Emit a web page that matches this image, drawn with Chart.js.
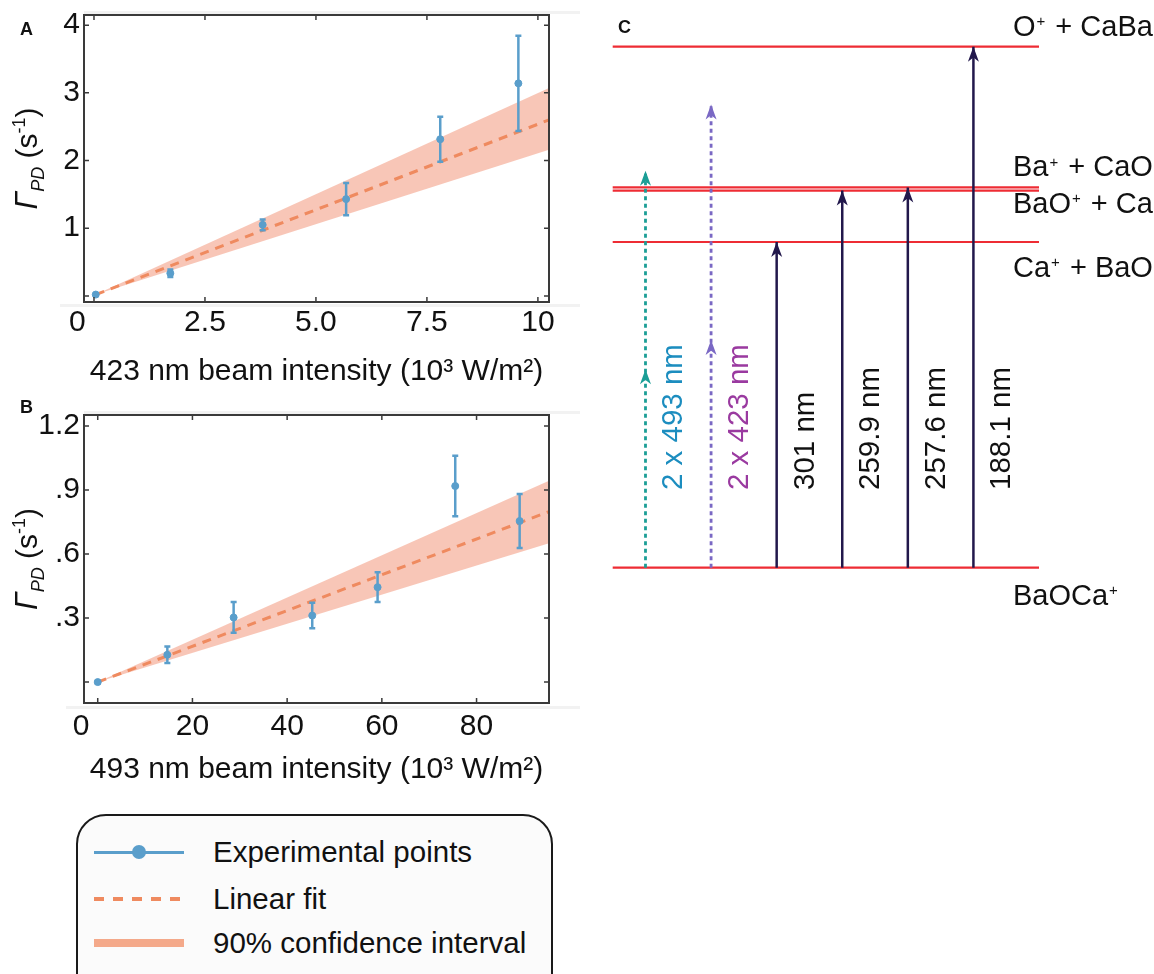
<!DOCTYPE html>
<html lang="en">
<head>
<meta charset="utf-8">
<title>BaOCa+ photodissociation</title>
<script src="https://cdn.jsdelivr.net/npm/chart.js@4.4.1/dist/chart.umd.min.js"></script>
<style>
  html, body { margin: 0; padding: 0; background: #fff; }
  #page { position: relative; width: 1154px; height: 974px; overflow: hidden;
          font-family: "Liberation Sans", Arial, sans-serif; color: #111; }
  #page canvas { position: absolute; }
  .tag { position: absolute; font-weight: bold; font-size: 18px; line-height: 18px; }
  .rule { position: absolute; height: 3px; background: #f2f2f2; }
  #legend { position: absolute; left: 76px; top: 814px; width: 473px; height: 190px;
            border: 2px solid #1a1a1a; border-radius: 30px; background: #fbfbfb; }
  #legend .row { position: absolute; left: 0; height: 34px; line-height: 34px; font-size: 29.5px; }
  #legend .sym { position: absolute; left: 16px; top: 0; width: 90px; height: 34px; }
  #legend .txt { position: absolute; left: 135px; white-space: nowrap; }
  .sym-pts::before { content: ''; position: absolute; left: 0; right: 0; top: 15.5px; height: 3px; background: #5a9ecb; }
  .sym-pts::after { content: ''; position: absolute; left: 38px; top: 10px; width: 14px; height: 14px;
                    border-radius: 50%; background: #5a9ecb; }
  .sym-fit::before { content: ''; position: absolute; left: 0; right: 0; top: 15px; height: 4px;
                     background: repeating-linear-gradient(to right, #ef8a5f 0 10px, transparent 10px 19px); }
  .sym-ci::before { content: ''; position: absolute; left: 0; right: 0; top: 13px; height: 8px; background: #f4a98a; }
</style>
</head>
<body>
<div id="page">
  <div class="rule" style="left:84px; top:11px; width:496px;"></div>
  <div class="rule" style="left:60px; top:304px; width:520px;"></div>
  <div class="rule" style="left:84px; top:411px; width:496px;"></div>
  <div class="rule" style="left:66px; top:706px; width:514px;"></div>

  <canvas id="chartA" width="600" height="390" style="left:0; top:0;"></canvas>
  <canvas id="chartB" width="600" height="400" style="left:0; top:390px;"></canvas>
  <canvas id="chartC" width="554" height="620" style="left:600px; top:0;"></canvas>

  <div class="tag" style="left:20px; top:20px;">A</div>
  <div class="tag" style="left:20px; top:398px;">B</div>
  <div class="tag" style="left:618px; top:18px;">C</div>

  <div id="legend">
    <div class="row" style="top:19px;"><span class="sym sym-pts"></span><span class="txt">Experimental points</span></div>
    <div class="row" style="top:66px;"><span class="sym sym-fit"></span><span class="txt">Linear fit</span></div>
    <div class="row" style="top:110px;"><span class="sym sym-ci"></span><span class="txt">90% confidence interval</span></div>
  </div>
</div>

<script>
// ---- panel A: 423 nm ----
const xA = [0.04, 1.72, 3.80, 5.68, 7.80, 9.56];
const yA = [0.02, 0.335, 1.05, 1.43, 2.315, 3.14];
const errA = [0.01, 0.054, 0.079, 0.239, 0.333, 0.704];
const fitXA = [0.04, 10.25];
const fitA = [0.02, 2.60];
const bandHiA = [0.02, 3.07];
const bandLoA = [0.02, 2.16];
const xTicksA = [0, 2.5, 5, 7.5, 10];
const xLabelsA = ['0', '2.5', '5.0', '7.5', '10'];
const yTicksA = [0, 1, 2, 3, 4];
const yLabelsA = ['', '1', '2', '3', '4'];

// ---- panel B: 493 nm ----
const xB = [0.0, 14.7, 28.7, 45.3, 59.1, 75.5, 89.1];
const yB = [0.0, 0.128, 0.303, 0.312, 0.445, 0.919, 0.755];
const errB = [0.005, 0.039, 0.072, 0.060, 0.070, 0.142, 0.127];
const fitXB = [0.0, 95.3];
const fitB = [0.0, 0.799];
const bandHiB = [0.0, 0.944];
const bandLoB = [0.0, 0.651];
const xTicksB = [0, 20, 40, 60, 80];
const xLabelsB = ['0', '20', '40', '60', '80'];
const yTicksB = [0, 0.3, 0.6, 0.9, 1.2];
const yLabelsB = ['', '.3', '.6', '.9', '1.2'];

// ---- panel C: energy levels (eV above BaOCa+) ----
const levelNames = ['BaOCa+', 'Ca+ + BaO', 'BaO+ + Ca', 'Ba+ + CaO', 'O+ + CaBa'];
const levelE = [0, 4.12, 4.77, 4.81, 6.59];
const arrowLabels = ['2 x 493 nm', '2 x 423 nm', '301 nm', '259.9 nm', '257.6 nm', '188.1 nm'];
const arrowTopE = [5.02, 5.86, 4.12, 4.77, 4.81, 6.59];
const arrowMidE = [2.51, 2.88, null, null, null, null];

Chart.defaults.font.family = '"Liberation Sans", Arial, sans-serif';
Chart.defaults.color = '#111';
Chart.defaults.animation = false;

const BLUE = '#5a9ecb';
const ORANGE = '#ef8a5f';
const BAND = 'rgba(240, 128, 96, 0.45)';
const FONT = 30;

function pairs(xs, ys) {
  return xs.map((v, i) => ({ x: v, y: ys[i] }));
}

// Γ_PD (s-1) with real sub/superscripts, rotated
function drawYTitle(ctx, cx, cy) {
  const parts = [
    ['Γ', 'italic 31px "Liberation Sans"', 0],
    ['PD', 'italic 18px "Liberation Sans"', 7],
    [' (s', '30px "Liberation Sans"', 0],
    ['-1', '18px "Liberation Sans"', -12],
    [')', '30px "Liberation Sans"', 0]
  ];
  ctx.save();
  ctx.translate(cx, cy);
  ctx.rotate(-Math.PI / 2);
  ctx.fillStyle = '#111';
  ctx.textBaseline = 'alphabetic';
  ctx.textAlign = 'left';
  let w = 0;
  parts.forEach(p => { ctx.font = p[1]; w += ctx.measureText(p[0]).width; });
  let pos = -w / 2;
  parts.forEach(p => {
    ctx.font = p[1];
    ctx.fillText(p[0], pos, p[2]);
    pos += ctx.measureText(p[0]).width;
  });
  ctx.restore();
}

// error bars, framed box with inward ticks, y title
const panelDeco = {
  id: 'panelDeco',
  afterDatasetsDraw(chart, args, opts) {
    const { ctx, scales: { x, y } } = chart;
    ctx.save();
    ctx.strokeStyle = BLUE;
    ctx.lineWidth = 2.5;
    ctx.beginPath();
    opts.xs.forEach((xv, i) => {
      const px = x.getPixelForValue(xv);
      const hi = y.getPixelForValue(opts.ys[i] + opts.err[i]);
      const lo = y.getPixelForValue(opts.ys[i] - opts.err[i]);
      ctx.moveTo(px, hi); ctx.lineTo(px, lo);
      ctx.moveTo(px - 3, hi); ctx.lineTo(px + 3, hi);
      ctx.moveTo(px - 3, lo); ctx.lineTo(px + 3, lo);
    });
    ctx.stroke();
    ctx.restore();
  },
  afterDraw(chart) {
    const { ctx, chartArea: a, scales: { x, y } } = chart;
    ctx.save();
    ctx.strokeStyle = '#3a3a3a';
    ctx.lineWidth = 1.5;
    ctx.beginPath();
    x.ticks.forEach(t => {
      const px = x.getPixelForValue(t.value);
      ctx.moveTo(px, a.bottom); ctx.lineTo(px, a.bottom - 5);
      ctx.moveTo(px, a.top); ctx.lineTo(px, a.top + 5);
    });
    y.ticks.forEach(t => {
      const py = y.getPixelForValue(t.value);
      ctx.moveTo(a.left, py); ctx.lineTo(a.left + 5, py);
      ctx.moveTo(a.right, py); ctx.lineTo(a.right - 5, py);
    });
    ctx.stroke();
    ctx.lineWidth = 2;
    ctx.strokeRect(a.left, a.top, a.right - a.left, a.bottom - a.top);
    ctx.restore();
    drawYTitle(ctx, 37, (a.top + a.bottom) / 2);
  }
};

function makePanel(id, d) {
  return new Chart(document.getElementById(id), {
    type: 'scatter',
    data: {
      datasets: [
        { data: pairs(d.xs, d.ys), backgroundColor: BLUE, borderColor: BLUE, pointRadius: 3.5, pointHoverRadius: 3.5 },
        { data: pairs(d.fitX, d.fit), showLine: true, borderColor: ORANGE, borderWidth: 3, borderDash: [9, 7], pointRadius: 0 },
        { data: pairs(d.fitX, d.hi), showLine: true, borderColor: 'rgba(0,0,0,0)', pointRadius: 0, fill: '+1', backgroundColor: BAND },
        { data: pairs(d.fitX, d.lo), showLine: true, borderColor: 'rgba(0,0,0,0)', pointRadius: 0, fill: false }
      ]
    },
    options: {
      responsive: false,
      events: [],
      layout: { padding: { top: d.top, right: 51, bottom: 0, left: 0 } },
      plugins: {
        legend: { display: false },
        tooltip: { enabled: false },
        panelDeco: { xs: d.xs, ys: d.ys, err: d.err }
      },
      scales: {
        x: {
          type: 'linear', min: d.xMin, max: d.xMax,
          grid: { display: false, drawTicks: false },
          border: { display: false },
          afterBuildTicks: s => { s.ticks = d.xTicks.map(v => ({ value: v })); },
          afterFit: s => { s.height = d.xAxisH; s.paddingLeft = 0; s.paddingRight = 0; },
          ticks: {
            font: { size: FONT }, color: '#111', padding: d.tickPad,
            maxRotation: 0, autoSkip: false,
            // the original sets its "0" a little left of the tick
            callback: (v, i) => (i === 0 ? d.xLabels[i] + '    ' : d.xLabels[i])
          },
          title: { display: true, text: d.xTitle, color: '#111', font: { size: FONT }, padding: { top: 0, bottom: d.titlePad } }
        },
        y: {
          type: 'linear', min: d.yMin, max: d.yMax,
          grid: { display: false, drawTicks: false },
          border: { display: false },
          afterBuildTicks: s => { s.ticks = d.yTicks.map(v => ({ value: v })); },
          afterFit: s => { s.width = 84; s.paddingTop = 0; s.paddingBottom = 0; },
          ticks: {
            font: { size: FONT }, color: '#111', padding: 4, autoSkip: false,
            callback: (v, i) => d.yLabels[i]
          }
        }
      }
    },
    plugins: [panelDeco]
  });
}

makePanel('chartA', {
  xs: xA, ys: yA, err: errA, fitX: fitXA, fit: fitA, hi: bandHiA, lo: bandLoA,
  xTicks: xTicksA, xLabels: xLabelsA, yTicks: yTicksA, yLabels: yLabelsA,
  xMin: -0.225, xMax: 10.25, yMin: -0.09, yMax: 4.15,
  top: 15, xAxisH: 88, tickPad: 3, titlePad: 0,
  xTitle: '423 nm beam intensity (10³ W/m²)'
});

makePanel('chartB', {
  xs: xB, ys: yB, err: errB, fitX: fitXB, fit: fitB, hi: bandHiB, lo: bandLoB,
  xTicks: xTicksB, xLabels: xLabelsB, yTicks: yTicksB, yLabels: yLabelsB,
  xMin: -2.9, xMax: 95.3, yMin: -0.098, yMax: 1.252,
  top: 25, xAxisH: 87, tickPad: 6, titlePad: 2,
  xTitle: '493 nm beam intensity (10³ W/m²)'
});

// ---- panel C ----
const RED = '#ee2c34';
const NAVY = '#22184c';
const arrowColors = ['#1b9e96', '#7a68c4', NAVY, NAVY, NAVY, NAVY];
const labelColors = ['#1c8dbf', '#9a3aa0', '#111', '#111', '#111', '#111'];
const levelLabelDy = [29, 27, 14, -19, -19];

function drawHead(ctx, px, py, color) {
  const len = 15, w = 11;
  ctx.save();
  ctx.fillStyle = color;
  ctx.beginPath();
  ctx.moveTo(px, py);
  ctx.lineTo(px - w / 2, py + len);
  ctx.lineTo(px, py + len * 0.72);
  ctx.lineTo(px + w / 2, py + len);
  ctx.closePath();
  ctx.fill();
  ctx.restore();
}

// chemical formula with a small superscript "+" after an element symbol
function drawFormula(ctx, text, px, py) {
  let pos = px;
  for (let i = 0; i < text.length; i++) {
    const ch = text[i];
    const sup = ch === '+' && i > 0 && /[A-Za-z]/.test(text[i - 1]);
    ctx.font = sup ? '15px "Liberation Sans"' : '29px "Liberation Sans"';
    ctx.fillText(ch, pos + (sup ? 1 : 0), sup ? py - 6 : py);
    pos += ctx.measureText(ch).width + (sup ? 3 : 0);
  }
}

const diagram = {
  id: 'diagram',
  afterDatasetsDraw(chart) {
    const { ctx, scales: { x, y } } = chart;
    arrowLabels.forEach((lab, i) => {
      const px = x.getPixelForValue(i + 0.5);
      drawHead(ctx, px, y.getPixelForValue(arrowTopE[i]), arrowColors[i]);
      if (arrowMidE[i] !== null) drawHead(ctx, px, y.getPixelForValue(arrowMidE[i]), arrowColors[i]);
      ctx.save();
      ctx.translate(px + 37, 490);
      ctx.rotate(-Math.PI / 2);
      ctx.font = '29.5px "Liberation Sans"';
      ctx.fillStyle = labelColors[i];
      ctx.textAlign = 'left';
      ctx.textBaseline = 'alphabetic';
      ctx.fillText(lab, 0, 0);
      ctx.restore();
    });
    ctx.save();
    ctx.fillStyle = '#111';
    ctx.textAlign = 'left';
    ctx.textBaseline = 'middle';
    levelNames.forEach((name, i) => {
      drawFormula(ctx, name, 413, y.getPixelForValue(levelE[i]) + levelLabelDy[i]);
    });
    ctx.restore();
  }
};

const xEnd = arrowLabels.length + 0.5;

new Chart(document.getElementById('chartC'), {
  type: 'scatter',
  data: {
    datasets: [
      ...arrowLabels.map((lab, i) => ({
        data: [{ x: i + 0.5, y: 0 }, { x: i + 0.5, y: arrowTopE[i] }],
        showLine: true, borderColor: arrowColors[i],
        borderWidth: arrowMidE[i] !== null ? 2.8 : 2.5,
        borderDash: arrowMidE[i] !== null ? [4, 3.5] : [],
        pointRadius: 0, clip: false
      })),
      ...levelE.map(e => ({
        data: [{ x: 0, y: e }, { x: xEnd, y: e }],
        showLine: true, borderColor: RED, borderWidth: 2.2, pointRadius: 0, clip: false
      }))
    ]
  },
  options: {
    responsive: false,
    events: [],
    layout: { padding: { left: 12.7, right: 115, top: 46.7, bottom: 52.3 } },
    plugins: { legend: { display: false }, tooltip: { enabled: false } },
    scales: {
      x: { type: 'linear', display: false, min: 0, max: xEnd },
      y: { type: 'linear', display: false, min: 0, max: 6.59 }
    }
  },
  plugins: [diagram]
});
</script>
</body>
</html>
